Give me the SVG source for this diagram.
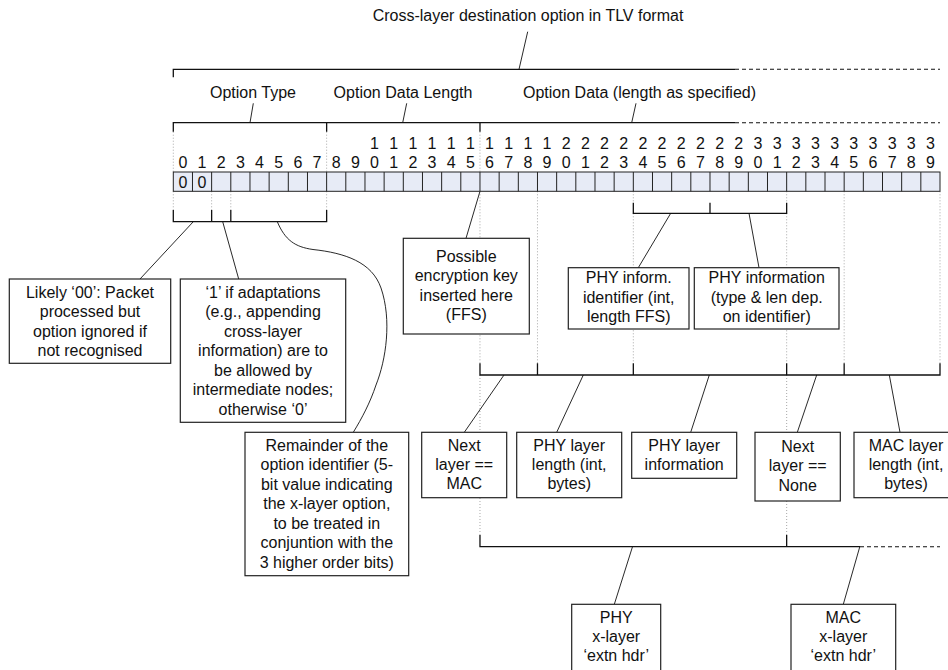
<svg xmlns="http://www.w3.org/2000/svg" width="948" height="670" viewBox="0 0 948 670">
<style>
.t{font-family:"Liberation Sans",Arial,sans-serif;font-size:16px;fill:#111;text-anchor:middle}
.br{fill:none;stroke:#111;stroke-width:1.3}
.da{fill:none;stroke:#111;stroke-width:1.1;stroke-dasharray:4 3}
.pt{fill:none;stroke:#111;stroke-width:0.9}
.dot{fill:none;stroke:#a8a8a8;stroke-width:1;stroke-dasharray:1 2}
.box{fill:#fff;stroke:#222;stroke-width:1.2}
.cell{fill:#e7ebf6;stroke:#222;stroke-width:1}
</style>
<rect width="948" height="670" fill="#fff"/>

<g id="guides">
<path class="dot" d="M173.3,131.7V172 M326.64,131.7V172 M479.98,131.7V172"/>
<path class="dot" d="M173.3,191.3V210 M211.64,191.3V210 M230.8,191.3V210 M326.64,191.3V210"/>
<path class="dot" d="M479.98,191.3V363.3 M479.98,375V535 M537.48,191.3V363.3 M633.32,191.3V202.7 M633.32,213.3V363.3 M786.66,191.3V202.7 M786.66,213.3V363.3 M786.66,375V535 M844.16,191.3V363.3 M940,191.3V363.3"/>
</g>

<g id="connectors">
<!-- top bracket -->
<path class="br" d="M173.3,77.3V69.3H735"/>
<path class="da" d="M735,69.3H940"/>
<path class="pt" d="M519,69.3L527.7,31.7"/>
<!-- field bracket -->
<path class="br" d="M173.3,131.7V122.7H735 M326.64,131.7V122.7 M479.98,131.7V122.7"/>
<path class="da" d="M735,122.7H940"/>
<path class="pt" d="M250,122.7L253.3,103.3 M402.7,122.7L406.7,103.3 M631.7,122.7L636,103.3"/>
<!-- option type bracket -->
<path class="br" d="M173.3,210V221.7H326.64V210 M211.64,210V221.7 M230.8,210V221.7"/>
<path class="pt" d="M193.3,221.7L140,279 M222.7,221.7L238.7,279"/>
<path class="pt" d="M277.3,221.7C285,240 295,247 313,249.5C345,253 372,262 381,288C392,320 386,360 376,385C370,403 362,418 353.3,432.3"/>
<!-- encryption key pointer -->
<path class="pt" d="M479.98,191.3L466,238.3"/>
<!-- PHY info bracket -->
<path class="br" d="M633.32,202.7V213.3H786.66V202.7 M709.99,202.7V213.3"/>
<path class="pt" d="M670.7,213.3L638.3,267.7 M749,213.3L759,267.7"/>
<!-- layer bracket -->
<path class="br" d="M479.98,363.3V375H940V363.3 M537.48,363.3V375 M633.32,363.3V375 M786.66,363.3V375 M844.16,363.3V375"/>
<path class="pt" d="M504,375L464.3,432.3 M583.3,375L556.7,432.3 M709.3,375L690.7,432.3 M816.7,375L797.3,432.3 M889.3,375L900,432.3"/>
<!-- extension header bracket -->
<path class="br" d="M479.98,535V546.7H860 M786.66,535V546.7"/>
<path class="da" d="M860,546.7H940"/>
<path class="pt" d="M632.5,546.7L614.3,604.3 M859.8,546.7L843.3,604.3"/>
</g>

<g id="labels">
<text class="t" x="528" y="21">Cross-layer destination option in TLV format</text>
<text class="t" x="253" y="98">Option Type</text>
<text class="t" x="403" y="98">Option Data Length</text>
<text class="t" x="639.5" y="98">Option Data (length as specified)</text>
</g>

<g id="bit-numbers">
<text class="t" x="374.56" y="148.5">1</text><text class="t" x="393.73" y="148.5">1</text><text class="t" x="412.9" y="148.5">1</text><text class="t" x="432.06" y="148.5">1</text><text class="t" x="451.23" y="148.5">1</text><text class="t" x="470.4" y="148.5">1</text><text class="t" x="489.57" y="148.5">1</text><text class="t" x="508.73" y="148.5">1</text><text class="t" x="527.9" y="148.5">1</text><text class="t" x="547.07" y="148.5">1</text>
<text class="t" x="566.24" y="148.5">2</text><text class="t" x="585.4" y="148.5">2</text><text class="t" x="604.57" y="148.5">2</text><text class="t" x="623.74" y="148.5">2</text><text class="t" x="642.91" y="148.5">2</text><text class="t" x="662.07" y="148.5">2</text><text class="t" x="681.24" y="148.5">2</text><text class="t" x="700.41" y="148.5">2</text><text class="t" x="719.58" y="148.5">2</text><text class="t" x="738.74" y="148.5">2</text>
<text class="t" x="757.91" y="148.5">3</text><text class="t" x="777.08" y="148.5">3</text><text class="t" x="796.25" y="148.5">3</text><text class="t" x="815.41" y="148.5">3</text><text class="t" x="834.58" y="148.5">3</text><text class="t" x="853.75" y="148.5">3</text><text class="t" x="872.92" y="148.5">3</text><text class="t" x="892.08" y="148.5">3</text><text class="t" x="911.25" y="148.5">3</text><text class="t" x="930.42" y="148.5">3</text>
<text class="t" x="182.88" y="168">0</text><text class="t" x="202.05" y="168">1</text><text class="t" x="221.22" y="168">2</text><text class="t" x="240.39" y="168">3</text><text class="t" x="259.56" y="168">4</text><text class="t" x="278.72" y="168">5</text><text class="t" x="297.89" y="168">6</text><text class="t" x="317.06" y="168">7</text><text class="t" x="336.23" y="168">8</text><text class="t" x="355.39" y="168">9</text>
<text class="t" x="374.56" y="168">0</text><text class="t" x="393.73" y="168">1</text><text class="t" x="412.9" y="168">2</text><text class="t" x="432.06" y="168">3</text><text class="t" x="451.23" y="168">4</text><text class="t" x="470.4" y="168">5</text><text class="t" x="489.57" y="168">6</text><text class="t" x="508.73" y="168">7</text><text class="t" x="527.9" y="168">8</text><text class="t" x="547.07" y="168">9</text>
<text class="t" x="566.24" y="168">0</text><text class="t" x="585.4" y="168">1</text><text class="t" x="604.57" y="168">2</text><text class="t" x="623.74" y="168">3</text><text class="t" x="642.91" y="168">4</text><text class="t" x="662.07" y="168">5</text><text class="t" x="681.24" y="168">6</text><text class="t" x="700.41" y="168">7</text><text class="t" x="719.58" y="168">8</text><text class="t" x="738.74" y="168">9</text>
<text class="t" x="757.91" y="168">0</text><text class="t" x="777.08" y="168">1</text><text class="t" x="796.25" y="168">2</text><text class="t" x="815.41" y="168">3</text><text class="t" x="834.58" y="168">4</text><text class="t" x="853.75" y="168">5</text><text class="t" x="872.92" y="168">6</text><text class="t" x="892.08" y="168">7</text><text class="t" x="911.25" y="168">8</text><text class="t" x="930.42" y="168">9</text>
</g>

<g id="bitfield">
<rect class="cell" x="173.3" y="172" width="766.7" height="19.3"/>
<path fill="none" stroke="#222" stroke-width="1" d="M192.47,172V191.3 M211.64,172V191.3 M230.8,172V191.3 M249.97,172V191.3 M269.14,172V191.3 M288.31,172V191.3 M307.47,172V191.3 M326.64,172V191.3 M345.81,172V191.3 M364.98,172V191.3 M384.14,172V191.3 M403.31,172V191.3 M422.48,172V191.3 M441.65,172V191.3 M460.81,172V191.3 M479.98,172V191.3 M499.15,172V191.3 M518.32,172V191.3 M537.48,172V191.3 M556.65,172V191.3 M575.82,172V191.3 M594.99,172V191.3 M614.15,172V191.3 M633.32,172V191.3 M652.49,172V191.3 M671.66,172V191.3 M690.82,172V191.3 M709.99,172V191.3 M729.16,172V191.3 M748.33,172V191.3 M767.49,172V191.3 M786.66,172V191.3 M805.83,172V191.3 M825,172V191.3 M844.16,172V191.3 M863.33,172V191.3 M882.5,172V191.3 M901.67,172V191.3 M920.83,172V191.3"/>
<text class="t" x="182.88" y="188">0</text>
<text class="t" x="202.05" y="188">0</text>
</g>

<g id="node-likely">
<rect class="box" x="9.3" y="279" width="161.4" height="84.3"/>
<text class="t" y="297.5"><tspan x="90" y="297.5">Likely ‘00’: Packet</tspan><tspan x="90" y="317">processed but</tspan><tspan x="90" y="336.5">option ignored if</tspan><tspan x="90" y="356">not recognised</tspan></text>
</g>

<g id="node-adapt">
<rect class="box" x="180.3" y="279" width="165.4" height="143.3"/>
<text class="t"><tspan x="263" y="297.5">‘1’ if adaptations</tspan><tspan x="263" y="317">(e.g., appending</tspan><tspan x="263" y="336.5">cross-layer</tspan><tspan x="263" y="356">information) are to</tspan><tspan x="263" y="375.5">be allowed by</tspan><tspan x="263" y="395">intermediate nodes;</tspan><tspan x="263" y="414.5">otherwise ‘0’</tspan></text>
</g>

<g id="node-remainder">
<rect class="box" x="245" y="432.3" width="163.7" height="143.4"/>
<text class="t"><tspan x="326.8" y="450.5">Remainder of the</tspan><tspan x="326.8" y="470">option identifier (5-</tspan><tspan x="326.8" y="489.5">bit value indicating</tspan><tspan x="326.8" y="509">the x-layer option,</tspan><tspan x="326.8" y="528.5">to be treated in</tspan><tspan x="326.8" y="548">conjuntion with the</tspan><tspan x="326.8" y="567.5">3 higher order bits)</tspan></text>
</g>

<g id="node-encryption">
<rect class="box" x="403.3" y="238.3" width="126" height="95.7"/>
<text class="t"><tspan x="466.3" y="262">Possible</tspan><tspan x="466.3" y="281.3">encryption key</tspan><tspan x="466.3" y="300.6">inserted here</tspan><tspan x="466.3" y="320">(FFS)</tspan></text>
</g>

<g id="node-phy-id">
<rect class="box" x="568.3" y="267.7" width="120.7" height="61.3"/>
<text class="t"><tspan x="628.7" y="283.3">PHY inform.</tspan><tspan x="628.7" y="302.7">identifier (int,</tspan><tspan x="628.7" y="322">length FFS)</tspan></text>
</g>

<g id="node-phy-info">
<rect class="box" x="694.3" y="267.7" width="144.7" height="61.3"/>
<text class="t"><tspan x="766.7" y="283.3">PHY information</tspan><tspan x="766.7" y="302.7">(type &amp; len dep.</tspan><tspan x="766.7" y="322">on identifier)</tspan></text>
</g>

<g id="node-next-mac">
<rect class="box" x="421.7" y="432.3" width="85" height="65.4"/>
<text class="t"><tspan x="464.2" y="450.7">Next</tspan><tspan x="464.2" y="470">layer ==</tspan><tspan x="464.2" y="489.3">MAC</tspan></text>
</g>

<g id="node-phy-len">
<rect class="box" x="516.7" y="432.3" width="105" height="65.4"/>
<text class="t"><tspan x="569.2" y="450.7">PHY layer</tspan><tspan x="569.2" y="470">length (int,</tspan><tspan x="569.2" y="489.3">bytes)</tspan></text>
</g>

<g id="node-phy-layer-info">
<rect class="box" x="631.7" y="432.3" width="105" height="46"/>
<text class="t"><tspan x="684.2" y="450.7">PHY layer</tspan><tspan x="684.2" y="470">information</tspan></text>
</g>

<g id="node-next-none">
<rect class="box" x="755" y="432.3" width="85.3" height="68.7"/>
<text class="t"><tspan x="797.7" y="452.3">Next</tspan><tspan x="797.7" y="471.3">layer ==</tspan><tspan x="797.7" y="490.7">None</tspan></text>
</g>

<g id="node-mac-len">
<rect class="box" x="854" y="432.3" width="104" height="65.4"/>
<text class="t"><tspan x="906" y="450.7">MAC layer</tspan><tspan x="906" y="470">length (int,</tspan><tspan x="906" y="489.3">bytes)</tspan></text>
</g>

<g id="node-phy-hdr">
<rect class="box" x="571.7" y="604.3" width="89" height="72"/>
<text class="t"><tspan x="616.2" y="622.7">PHY</tspan><tspan x="616.2" y="641.7">x-layer</tspan><tspan x="616.2" y="661">‘extn hdr’</tspan></text>
</g>

<g id="node-mac-hdr">
<rect class="box" x="791" y="604.3" width="104.7" height="72"/>
<text class="t"><tspan x="843.3" y="622.7">MAC</tspan><tspan x="843.3" y="641.7">x-layer</tspan><tspan x="843.3" y="661">‘extn hdr’</tspan></text>
</g>
</svg>
